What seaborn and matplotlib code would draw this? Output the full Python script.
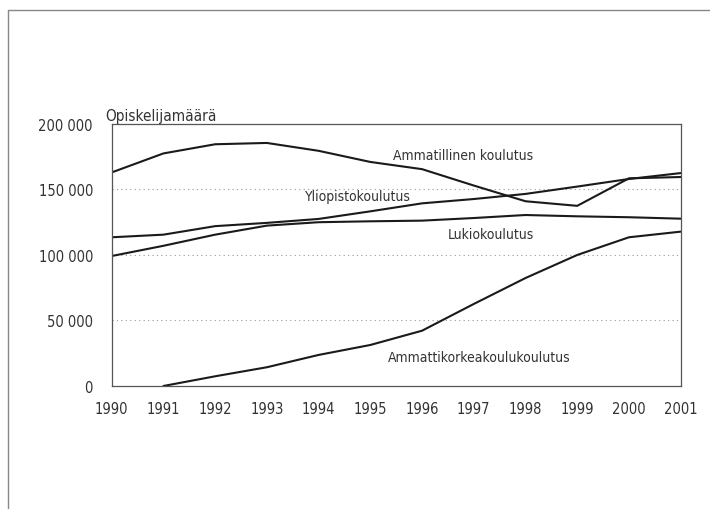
import numpy as np
import pandas as pd
import seaborn as sns
import matplotlib.pyplot as plt
from matplotlib.ticker import FuncFormatter
from matplotlib.lines import Line2D

# Data (students per year)
years = list(range(1990, 2002))
ammatillinen = [163000, 177500, 184500, 185500, 179500, 171000, 165500, 153000, 141000, 137500, 158500, 159500]
yliopisto = [113500, 115500, 122000, 124500, 127500, 133300, 139400, 142700, 146600, 152200, 158000, 162500]
lukio = [99200, 107000, 115500, 122400, 125000, 125700, 126200, 128200, 130500, 129500, 128800, 127700]
amk = [np.nan, 0, 7400, 14300, 23700, 31300, 42200, 62600, 82400, 100000, 113500, 117800]

series_names = ['Ammatillinen koulutus', 'Yliopistokoulutus', 'Lukiokoulutus',
                'Ammattikorkeakoulukoulutus']

df = pd.DataFrame({'Vuosi': years,
                   series_names[0]: ammatillinen,
                   series_names[1]: yliopisto,
                   series_names[2]: lukio,
                   series_names[3]: amk})
long = df.melt(id_vars='Vuosi', var_name='Koulutus', value_name='Opiskelijat').dropna()

sns.set_style('white')
plt.rcParams['font.family'] = ['DejaVu Sans']
plt.rcParams['font.stretch'] = 'condensed'
txt = '#333333'

fig = plt.figure(figsize=(7.1, 5.1), dpi=100)
ax = fig.add_axes([0.1573, 0.2412, 0.8014, 0.5138])

sns.lineplot(data=long, x='Vuosi', y='Opiskelijat', hue='Koulutus',
             palette=['#1a1a1a'] * 4, linewidth=1.5, legend=False, ax=ax)

ax.set_xlim(1990, 2001)
ax.set_ylim(0, 200000)
ax.set_xticks(years)
ax.set_yticks([0, 50000, 100000, 150000, 200000])
ax.yaxis.set_major_formatter(FuncFormatter(lambda v, p: f'{int(v):,}'.replace(',', ' ')))
ax.set_xlabel('')
ax.set_ylabel('')

for y in [50000, 100000, 150000]:
    ax.axhline(y, color='#999999', linestyle=(0, (1, 3)), linewidth=0.8, zorder=0)

for s in ax.spines.values():
    s.set_color('#555555')
    s.set_linewidth(0.9)
ax.tick_params(axis='both', direction='out', length=5.5, width=0.8, color='#555555',
               labelsize=10.5, labelcolor=txt)
ax.tick_params(axis='y', pad=8)
ax.tick_params(axis='x', pad=5)

ax.text(-0.012, 1.015, 'Opiskelijamäärä', transform=ax.transAxes, fontsize=11,
        color=txt, ha='left', va='baseline')

ax.text(1995.44, 176600, series_names[0], fontsize=10, color=txt, ha='left', va='center')
ax.text(1993.74, 145000, series_names[1], fontsize=10, color=txt, ha='left', va='center')
ax.text(1996.49, 116000, series_names[2], fontsize=10, color=txt, ha='left', va='center')
ax.text(1995.34, 22000, series_names[3], fontsize=10, color=txt, ha='left', va='center')

# page frame of the scanned document
fig.add_artist(Line2D([8 / 710, 1], [1 - 11 / 510] * 2, color='#888888', linewidth=1))
fig.add_artist(Line2D([8 / 710] * 2, [0, 1 - 11 / 510], color='#888888', linewidth=1))

fig.savefig('out.png', dpi=100)
